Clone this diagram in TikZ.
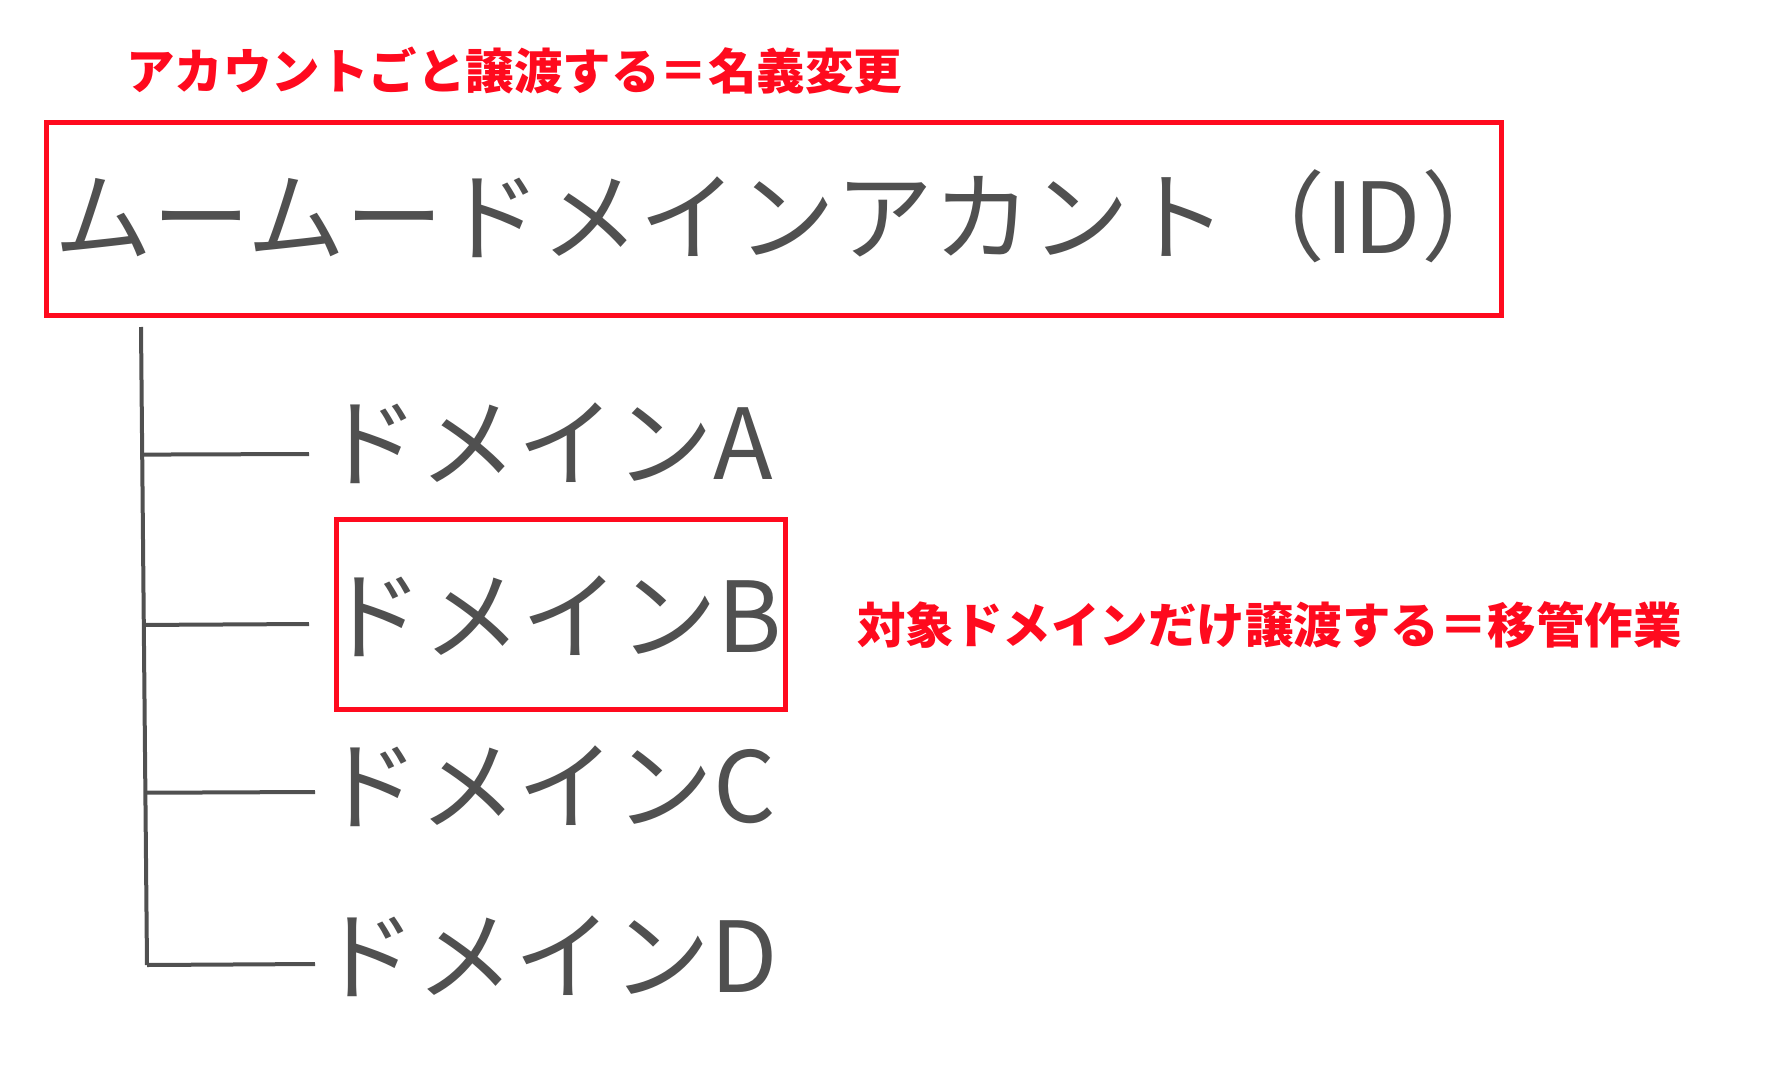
\documentclass[tikz,border=0pt]{standalone}
\usepackage{fontspec}
\newfontfamily\jp{Noto Sans CJK JP}
\usetikzlibrary{calc}
\definecolor{tred}{HTML}{FF0A1E}
\definecolor{tgray}{HTML}{505050}
\begin{document}
\begin{tikzpicture}[x=1pt,y=-1pt]
\useasboundingbox[fill=white] (0,0) rectangle (1788,1076);
\tikzset{
  redlabel/.style={text=tred, font=\jp\bfseries\fontsize{48.5}{48.5}\selectfont, inner sep=0pt, anchor=west},
  redbox/.style={draw=tred, line width=5pt, inner sep=0pt},
  treeline/.style={draw=tgray, line width=4pt},
  domlabel/.style={text=tgray, font=\jp\fontsize{98}{98}\selectfont, inner sep=0pt, anchor=west},
  acctlabel/.style={text=tgray, font=\jp\fontsize{98}{98}\selectfont, inner sep=0pt, anchor=west}
}
% title
\node[redlabel] (title) at (126,71) {アカウントごと譲渡する＝名義変更};
% account box
\node[redbox, minimum width=1455pt, minimum height=193pt] (acct) at (773.5,218.5) {};
\node[acctlabel] (accttext) at (54,216) {ムームードメインアカント（ID）};
% tree trunk
\coordinate (top) at (141,327);
\coordinate (bot) at (147,965);
\draw[treeline] (top) -- (bot);
% branch points
\coordinate (tA) at ($(top)!0.2!(bot)$);
\coordinate (tB) at ($(top)!0.467!(bot)$);
\coordinate (tC) at ($(top)!0.73!(bot)$);
\coordinate (tD) at (bot);
\coordinate (eA) at (309,454);
\coordinate (eB) at (309,624);
\coordinate (eC) at (315,792);
\coordinate (eD) at (315,964);
\draw[treeline] (tA) -- (eA);
\draw[treeline] (tB) -- (eB);
\draw[treeline] (tC) -- (eC);
\draw[treeline] (tD) -- (eD);
% domains
\node[domlabel] (dA) at (321,443) {ドメインA};
\node[domlabel] (dB) at (325,616) {ドメインB};
\node[domlabel] (dC) at (321,786) {ドメインC};
\node[domlabel] (dD) at (318,956) {ドメインD};
% highlight box around B
\node[redbox, minimum width=449pt, minimum height=190pt] (bbox) at (561,614.5) {};
% right label
\node[redlabel] (move) at (857,625) {対象ドメインだけ譲渡する＝移管作業};
\end{tikzpicture}
\end{document}
